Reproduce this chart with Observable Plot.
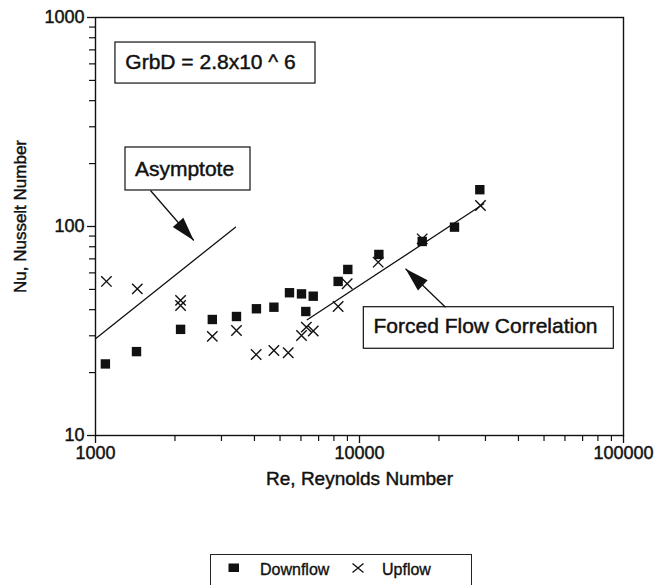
<!DOCTYPE html>
<html><head><meta charset="utf-8">
<script src="https://cdn.jsdelivr.net/npm/d3@7"></script>
<script src="https://cdn.jsdelivr.net/npm/@observablehq/plot@0.6"></script>
<style>
body{margin:0;background:#fff;font-family:"Liberation Sans",Arial,sans-serif;width:667px;height:585px;overflow:hidden;position:relative}
#chart svg text{stroke:#111;stroke-width:0.45px;paint-order:stroke}
#legend{position:absolute;left:210px;top:554px;width:262px;height:40px;border:1px solid #222;box-sizing:border-box;font-size:16px;color:#111;-webkit-text-stroke:0.35px #111}
#legend span{position:absolute;top:6px;white-space:nowrap}
#legend svg{position:absolute}
</style></head><body><div id="chart"></div>
<div id="legend"></div>
<script>
// Data
const downRe = [1090, 1430, 2100, 2770, 3420, 4070, 4740, 5430, 6030, 6260, 6680, 8300, 9030, 11840, 17280, 22900, 28560];
const downNu = [22.0, 25.2, 32.2, 35.9, 37.1, 40.4, 41.1, 48.2, 47.6, 39.2, 46.4, 54.6, 62.3, 73.5, 84.8, 99.3, 150];
const upRe = [1100, 1440, 2100, 2100, 2770, 3420, 4060, 4740, 5370, 6030, 6290, 6680, 8300, 8980, 11770, 17280, 28720];
const upNu = [54.6, 50.3, 44.3, 41.9, 29.8, 31.8, 24.4, 25.5, 24.9, 30.1, 33.0, 31.6, 41.4, 53.2, 67.5, 87.3, 126];
const asymRe = [1000, 3390];
const asymNu = [29, 99.3];
const forcedRe = [6340, 29570];
const forcedNu = [35.8, 128.4];

const xMajorTicks = [1000, 10000, 100000];
const xMajorLabels = ["1000", "10000", "100000"];
const xMinorTicks = [2000, 3000, 4000, 5000, 6000, 7000, 8000, 9000, 20000, 30000, 40000, 50000, 60000, 70000, 80000, 90000];
const yMajorTicks = [10, 100, 1000];
const yMajorLabels = ["10", "100", "1000"];
const yMinorTicks = [20, 30, 40, 50, 60, 70, 80, 90, 200, 300, 400, 500, 600, 700, 800, 900];

const xTitle = "Re, Reynolds Number";
const yTitle = "Nu, Nusselt Number";
const legendLabels = ["Downflow", "Upflow"];

// Annotations (data coordinates)
const annoBoxes = [
  {x1: 1190, x2: 6813, y1: 483, y2: 759},
  {x1: 1299, x2: 3865, y1: 148.7, y2: 238.8},
  {x1: 10385, x2: 91900, y1: 26.0, y2: 41.1}
];
const annoTexts = [
  {Re: 2727, Nu: 611, text: "GrbD = 2.8x10 ^ 6"},
  {Re: 2174, Nu: 188, text: "Asymptote"},
  {Re: 30010, Nu: 33.3, text: "Forced Flow Correlation"}
];
const annoArrows = [
  {x1: 1615, y1: 148.7, x2: 2357, y2: 85.7},
  {x1: 21170, y1: 41.1, x2: 14940, y2: 62.8}
];

const down = downRe.map((r, i) => ({Re: r, Nu: downNu[i]}));
const up = upRe.map((r, i) => ({Re: r, Nu: upNu[i]}));
const asym = asymRe.map((r, i) => ({Re: r, Nu: asymNu[i]}));
const forced = forcedRe.map((r, i) => ({Re: r, Nu: forcedNu[i]}));

const SVGNS = "http://www.w3.org/2000/svg";
function filledArrow(len, wid) {
  return (color) => {
    const m = document.createElementNS(SVGNS, "marker");
    m.setAttribute("viewBox", `0 ${-wid / 2} ${len} ${wid}`);
    m.setAttribute("markerWidth", len);
    m.setAttribute("markerHeight", wid);
    m.setAttribute("markerUnits", "userSpaceOnUse");
    m.setAttribute("refX", len);
    m.setAttribute("refY", 0);
    m.setAttribute("orient", "auto");
    m.setAttribute("overflow", "visible");
    const p = document.createElementNS(SVGNS, "path");
    p.setAttribute("d", `M0,${-wid / 2}L${len},0L0,${wid / 2}Z`);
    p.setAttribute("fill", "#111");
    p.setAttribute("stroke", "none");
    m.appendChild(p);
    return m;
  };
}

const chart = Plot.plot({
  width: 667,
  height: 500,
  marginLeft: 95,
  marginRight: 44,
  marginTop: 17,
  marginBottom: 65,
  style: {fontFamily: "'Liberation Sans', Arial, sans-serif", color: "#111", background: "#fff"},
  x: {type: "log", domain: [1000, 100000], label: null},
  y: {type: "log", domain: [10, 1000], label: null},
  marks: [
    Plot.axisX(xMinorTicks, {tickSize: 6, tickFormat: () => "", strokeWidth: 1.2}),
    Plot.axisY(yMinorTicks, {tickSize: 6, tickFormat: () => "", strokeWidth: 1.2}),
    Plot.axisX(xMajorTicks, {tickSize: 8, tickPadding: 3, strokeWidth: 1.3, fontSize: 18,
      tickFormat: d => xMajorLabels[xMajorTicks.indexOf(d)]}),
    Plot.axisY(yMajorTicks, {tickSize: 8, tickPadding: 3, strokeWidth: 1.3, fontSize: 18,
      tickFormat: d => yMajorLabels[yMajorTicks.indexOf(d)]}),
    Plot.frame({stroke: "#111", strokeWidth: 1.4}),
    Plot.line(asym, {x: "Re", y: "Nu", stroke: "#111", strokeWidth: 1.3}),
    Plot.line(forced, {x: "Re", y: "Nu", stroke: "#111", strokeWidth: 1.3}),
    Plot.dot(down, {x: "Re", y: "Nu", symbol: "square", r: 5.3, fill: "#111", stroke: "none"}),
    Plot.dot(up, {x: "Re", y: "Nu", symbol: "times", r: 4.8, stroke: "#111", strokeWidth: 1.4}),
    Plot.rect(annoBoxes, {x1: "x1", x2: "x2", y1: "y1", y2: "y2", fill: "#fff", stroke: "#111", strokeWidth: 1.2}),
    Plot.text(annoTexts, {x: "Re", y: "Nu", text: "text", fontSize: 21, fill: "#111", lineAnchor: "middle"}),
    Plot.link(annoArrows, {x1: "x1", y1: "y1", x2: "x2", y2: "y2", stroke: "#111", strokeWidth: 1.3, markerEnd: filledArrow(24, 14)}),
    Plot.text([xTitle], {text: d => d, frameAnchor: "bottom", dy: 43, lineAnchor: "middle", fontSize: 19, fill: "#111"}),
    Plot.text([yTitle], {text: d => d, frameAnchor: "left", textAnchor: "middle", dx: -75, dy: -10, rotate: -90, lineAnchor: "middle", fontSize: 17, fill: "#111"})
  ]
});
document.getElementById("chart").appendChild(chart);

// Legend
const lg = document.getElementById("legend");
const sq = document.createElementNS(SVGNS, "svg");
sq.setAttribute("width", 12); sq.setAttribute("height", 10);
sq.style.left = "17px"; sq.style.top = "8px";
sq.innerHTML = '<rect x="0.5" y="0.5" width="10.5" height="8.5" fill="#111"/>';
lg.appendChild(sq);
const t1 = document.createElement("span");
t1.textContent = legendLabels[0]; t1.style.left = "49px";
lg.appendChild(t1);
const cr = document.createElementNS(SVGNS, "svg");
cr.setAttribute("width", 14); cr.setAttribute("height", 12);
cr.style.left = "140px"; cr.style.top = "7px";
cr.innerHTML = '<path d="M1.5,1.5L12.5,10.5M12.5,1.5L1.5,10.5" stroke="#111" stroke-width="1.3"/>';
lg.appendChild(cr);
const t2 = document.createElement("span");
t2.textContent = legendLabels[1]; t2.style.left = "171px";
lg.appendChild(t2);
</script>
</body></html>
